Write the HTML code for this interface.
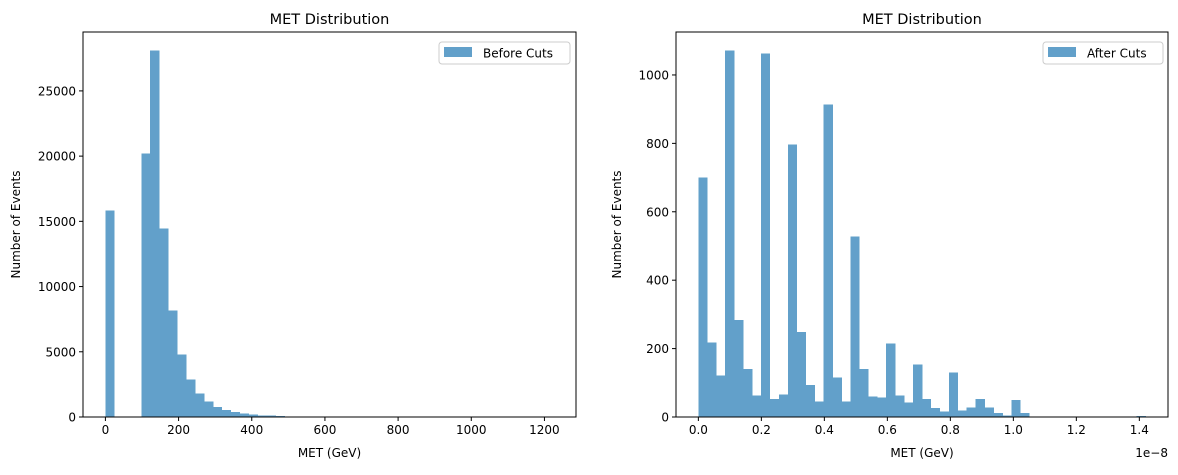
<!DOCTYPE html>
<html><head><meta charset="utf-8"><style>
body{margin:0;background:#fff;}
svg text{font-family:"DejaVu Sans","Liberation Sans",sans-serif;fill:#000;}
</style></head><body>
<svg id="fig" width="1178" height="470" xmlns="http://www.w3.org/2000/svg"></svg>
<script>
// Left chart data (Before Cuts), bin width 24.5 GeV
const leftBinWidth = 24.5;
const leftCounts = [15850,0,0,0,20220,28110,14460,8180,4800,2880,1800,1200,750,520,370,260,180,120,100,70,55,45,40,30,0,0,0,0,0,0,0,0,0,0,0,0,0,0,0,0,0,0,0,0,0,0,0,0,0,1];
const leftXTicks = [0,200,400,600,800,1000,1200];
const leftYTicks = [0,5000,10000,15000,20000,25000];
// Right chart data (After Cuts), units 1e-8, bin width 0.0284
const rightBinWidth = 0.0284;
const rightCounts = [700,218,122,1072,283,140,63,1063,52,66,797,248,93,46,914,116,46,528,140,60,57,215,63,43,154,52,26,16,130,19,28,52,28,11,5,49,11,2,2,2,2,2,2,2,0,0,0,0,0,3];
const rightXTicks = [0.0,0.2,0.4,0.6,0.8,1.0,1.2,1.4];
const rightXLabels = ["0.0","0.2","0.4","0.6","0.8","1.0","1.2","1.4"];
const rightYTicks = [0,200,400,600,800,1000];

const NS="http://www.w3.org/2000/svg";
const svg=document.getElementById('fig');
function mk(tag,attrs,parent){const e=document.createElementNS(NS,tag);for(const k in attrs)e.setAttribute(k,attrs[k]);(parent||svg).appendChild(e);return e;}

function drawChart(o){
  const g=mk('g',{});
  
  
  const xMax=o.binWidth*o.counts.length;
  const xmin=-0.05*xMax, xmax=xMax*1.05;
  const maxC=Math.max(...o.counts);
  const ymax=maxC*1.05;
  const sx=v=>o.L+(v-xmin)/(xmax-xmin)*(o.R-o.L);
  const sy=v=>o.B-v/ymax*(o.B-o.T);
  o.counts.forEach((c,i)=>{
    if(c<=0)return;
    const x0=sx(i*o.binWidth),x1=sx((i+1)*o.binWidth);
    const r=mk('rect',{x:x0,y:sy(c),width:x1-x0+0.3,height:o.B-sy(c),fill:'#62a0ca','shape-rendering':'crispEdges'},g);
    
    
  });
  const f=mk('rect',{x:o.L,y:o.T,width:o.R-o.L,height:o.B-o.T,fill:'none',stroke:'#000','stroke-width':1},g);
  
  
  o.xTicks.forEach((t,i)=>{
    const x=sx(t);
    mk('line',{x1:x,x2:x,y1:o.B,y2:o.B+4,stroke:'#000'},g);
    const tx=mk('text',{x:x,y:o.B+17,'font-size':12,'text-anchor':'middle'},g);
    tx.textContent=o.xLabels?o.xLabels[i]:String(t);
    
    
  });
  o.yTicks.forEach(t=>{
    const y=sy(t);
    mk('line',{x1:o.L-4,x2:o.L,y1:y,y2:y,stroke:'#000'},g);
    const tx=mk('text',{x:o.L-7,y:y+4.5,'font-size':12,'text-anchor':'end'},g);
    tx.textContent=String(t);
    
    
  });
  const title=mk('text',{x:(o.L+o.R)/2,y:o.T-8,'font-size':14.5,'text-anchor':'middle'},g);
  title.textContent='MET Distribution';
  
  
  const xl=mk('text',{x:(o.L+o.R)/2,y:o.B+40,'font-size':12,'text-anchor':'middle'},g);
  xl.textContent='MET (GeV)';
  
  
  const yc=(o.T+o.B)/2;
  const yl=mk('text',{x:o.yLabelX,y:yc,'font-size':12,'text-anchor':'middle',transform:`rotate(-90 ${o.yLabelX} ${yc})`},g);
  yl.textContent='Number of Events';
  
  
  if(o.offset){
    const off=mk('text',{x:o.R,y:o.B+40,'font-size':12,'text-anchor':'end'},g);
    off.textContent='1e\u22128';
    
    
  }
  const lg=mk('g',{},g);
  
  
  mk('rect',{x:o.legX,y:o.T+10,width:o.legW,height:22,rx:3,fill:'#fff','fill-opacity':0.8,stroke:'#ccc'},lg);
  mk('rect',{x:o.legX+5,y:o.T+15,width:28,height:10,fill:'#62a0ca'},lg);
  const lt=mk('text',{x:o.legX+44,y:o.T+25.5,'font-size':12},lg);
  lt.textContent=o.legend;
  
  
}
drawChart({name:'before-cuts-chart',L:83,R:576,T:32,B:417,binWidth:leftBinWidth,counts:leftCounts,xTicks:leftXTicks,yTicks:leftYTicks,yLabelX:20,legX:439,legW:131,legend:'Before Cuts'});
drawChart({name:'after-cuts-chart',L:676,R:1168,T:32,B:417,binWidth:rightBinWidth,counts:rightCounts,xTicks:rightXTicks,xLabels:rightXLabels,yTicks:rightYTicks,yLabelX:621,legX:1043,legW:120,legend:'After Cuts',offset:true});
</script>
</body></html>
